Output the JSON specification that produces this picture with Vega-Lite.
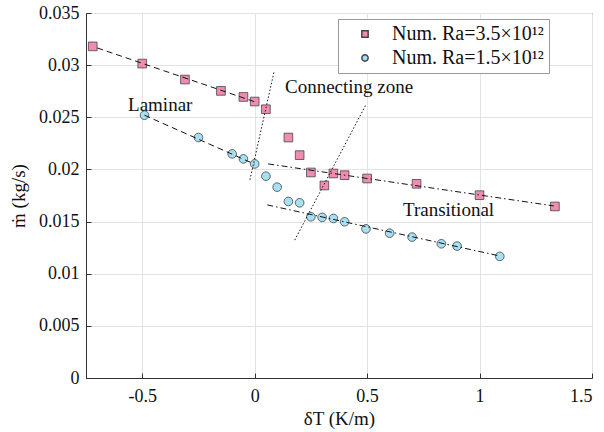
{
  "$schema": "https://vega.github.io/schema/vega-lite/v6.json",
  "width": 506,
  "height": 365,
  "autosize": "none",
  "padding": {"left": 86, "top": 13, "right": 12, "bottom": 54},
  "background": "white",
  "config": {
    "font": "Liberation Serif, serif",
    "view": {"stroke": "#333333", "strokeWidth": 1},
    "axis": {
      "labelFont": "Liberation Serif, serif",
      "titleFont": "Liberation Serif, serif",
      "labelFontSize": 18,
      "titleFontSize": 19,
      "titleFontWeight": "normal",
      "labelColor": "#111",
      "titleColor": "#111",
      "gridColor": "#e3e3e3",
      "gridWidth": 1,
      "domainColor": "#333333",
      "tickColor": "#333333",
      "tickSize": -5,
      "ticks": true
    }
  },
  "datasets": {
    "pts": [
      {"x": -0.72, "m": 0.0318, "s": "Num. Ra=3.5×10¹²"},
      {"x": -0.5, "m": 0.03015, "s": "Num. Ra=3.5×10¹²"},
      {"x": -0.31, "m": 0.02862, "s": "Num. Ra=3.5×10¹²"},
      {"x": -0.15, "m": 0.02753, "s": "Num. Ra=3.5×10¹²"},
      {"x": -0.05, "m": 0.02695, "s": "Num. Ra=3.5×10¹²"},
      {"x": 0.0, "m": 0.02651, "s": "Num. Ra=3.5×10¹²"},
      {"x": 0.05, "m": 0.02577, "s": "Num. Ra=3.5×10¹²"},
      {"x": 0.15, "m": 0.02306, "s": "Num. Ra=3.5×10¹²"},
      {"x": 0.2, "m": 0.02137, "s": "Num. Ra=3.5×10¹²"},
      {"x": 0.25, "m": 0.01971, "s": "Num. Ra=3.5×10¹²"},
      {"x": 0.31, "m": 0.01846, "s": "Num. Ra=3.5×10¹²"},
      {"x": 0.35, "m": 0.01961, "s": "Num. Ra=3.5×10¹²"},
      {"x": 0.4, "m": 0.01945, "s": "Num. Ra=3.5×10¹²"},
      {"x": 0.5, "m": 0.01913, "s": "Num. Ra=3.5×10¹²"},
      {"x": 0.72, "m": 0.01862, "s": "Num. Ra=3.5×10¹²"},
      {"x": 1.0, "m": 0.01753, "s": "Num. Ra=3.5×10¹²"},
      {"x": 1.335, "m": 0.01645, "s": "Num. Ra=3.5×10¹²"},
      {"x": -0.49, "m": 0.0252, "s": "Num. Ra=1.5×10¹²"},
      {"x": -0.25, "m": 0.02306, "s": "Num. Ra=1.5×10¹²"},
      {"x": -0.1, "m": 0.02149, "s": "Num. Ra=1.5×10¹²"},
      {"x": -0.05, "m": 0.02101, "s": "Num. Ra=1.5×10¹²"},
      {"x": 0.0, "m": 0.02053, "s": "Num. Ra=1.5×10¹²"},
      {"x": 0.05, "m": 0.01935, "s": "Num. Ra=1.5×10¹²"},
      {"x": 0.1, "m": 0.0183, "s": "Num. Ra=1.5×10¹²"},
      {"x": 0.15, "m": 0.01693, "s": "Num. Ra=1.5×10¹²"},
      {"x": 0.2, "m": 0.0168, "s": "Num. Ra=1.5×10¹²"},
      {"x": 0.25, "m": 0.01546, "s": "Num. Ra=1.5×10¹²"},
      {"x": 0.3, "m": 0.0154, "s": "Num. Ra=1.5×10¹²"},
      {"x": 0.35, "m": 0.0153, "s": "Num. Ra=1.5×10¹²"},
      {"x": 0.4, "m": 0.01498, "s": "Num. Ra=1.5×10¹²"},
      {"x": 0.495, "m": 0.0143, "s": "Num. Ra=1.5×10¹²"},
      {"x": 0.6, "m": 0.01389, "s": "Num. Ra=1.5×10¹²"},
      {"x": 0.7, "m": 0.01351, "s": "Num. Ra=1.5×10¹²"},
      {"x": 0.83, "m": 0.01287, "s": "Num. Ra=1.5×10¹²"},
      {"x": 0.9, "m": 0.01265, "s": "Num. Ra=1.5×10¹²"},
      {"x": 1.09, "m": 0.01166, "s": "Num. Ra=1.5×10¹²"}
    ],
    "lines": [
      {"id": "lam1", "style": "dash", "x": -0.70, "m": 0.03165},
      {"id": "lam1", "style": "dash", "x": 0.012, "m": 0.0264},
      {"id": "lam2", "style": "dash", "x": -0.49, "m": 0.0252},
      {"id": "lam2", "style": "dash", "x": 0.0, "m": 0.0205},
      {"id": "tr1", "style": "dashdot", "x": 0.06, "m": 0.02053},
      {"id": "tr1", "style": "dashdot", "x": 1.33, "m": 0.0165},
      {"id": "tr2", "style": "dashdot", "x": 0.056, "m": 0.0166},
      {"id": "tr2", "style": "dashdot", "x": 1.09, "m": 0.0117},
      {"id": "cz1", "style": "dot", "x": -0.021, "m": 0.019},
      {"id": "cz1", "style": "dot", "x": 0.086, "m": 0.02935},
      {"id": "cz2", "style": "dot", "x": 0.178, "m": 0.01322},
      {"id": "cz2", "style": "dot", "x": 0.493, "m": 0.02613}
    ],
    "labels": [
      {"x": -0.42, "m": 0.0262, "t": "Laminar"},
      {"x": 0.42, "m": 0.0279, "t": "Connecting zone"},
      {"x": 0.862, "m": 0.0161, "t": "Transitional"}
    ]
  },
  "layer": [
    {
      "data": {"name": "pts"},
      "mark": {"type": "point", "filled": true, "opacity": 1, "stroke": "#444444", "strokeWidth": 0.8, "size": 75},
      "encoding": {
        "x": {
          "field": "x", "type": "quantitative",
          "scale": {"domain": [-0.75, 1.5], "nice": false, "zero": false},
          "axis": {"values": [-0.5, 0, 0.5, 1, 1.5], "title": "δT (K/m)", "labelPadding": 14, "titlePadding": 4,
                   "labelExpr": "datum.value < 0 ? '-' + format(-datum.value, '~g') : format(datum.value, '~g')"}
        },
        "y": {
          "field": "m", "type": "quantitative",
          "scale": {"domain": [0, 0.035], "nice": false},
          "axis": {"values": [0, 0.005, 0.01, 0.015, 0.02, 0.025, 0.03, 0.035], "title": "ṁ (kg/s)", "labelPadding": 12, "titlePadding": 10, "format": "~g"}
        },
        "color": {
          "field": "s", "type": "nominal",
          "scale": {"domain": ["Num. Ra=3.5×10¹²", "Num. Ra=1.5×10¹²"], "range": ["#f08cb4", "#a6e0f2"]},
          "legend": {
            "title": null, "orient": "none", "legendX": 252, "legendY": 6,
            "fillColor": "white", "strokeColor": "#999999", "padding": 5,
            "labelFont": "Liberation Serif, serif", "labelFontSize": 20, "labelColor": "#111",
            "symbolSize": 40, "symbolOffset": 12, "rowPadding": 4, "labelOffset": 17, "labelLimit": 300
          }
        },
        "shape": {
          "field": "s", "type": "nominal",
          "scale": {"domain": ["Num. Ra=3.5×10¹²", "Num. Ra=1.5×10¹²"], "range": ["square", "circle"]},
          "legend": null
        }
      }
    },
    {
      "data": {"name": "lines"},
      "mark": {"type": "line", "color": "#111111", "strokeWidth": 1},
      "encoding": {
        "x": {"field": "x", "type": "quantitative"},
        "y": {"field": "m", "type": "quantitative"},
        "detail": {"field": "id"},
        "strokeDash": {
          "field": "style", "type": "nominal",
          "scale": {"domain": ["dash", "dashdot", "dot"], "range": [[6, 4], [6, 3, 1.5, 3], [1.5, 2]]},
          "legend": null
        }
      }
    },
    {
      "data": {"name": "labels"},
      "mark": {"type": "text", "font": "Liberation Serif, serif", "fontSize": 19, "color": "#111"},
      "encoding": {
        "x": {"field": "x", "type": "quantitative"},
        "y": {"field": "m", "type": "quantitative"},
        "text": {"field": "t"}
      }
    }
  ]
}
